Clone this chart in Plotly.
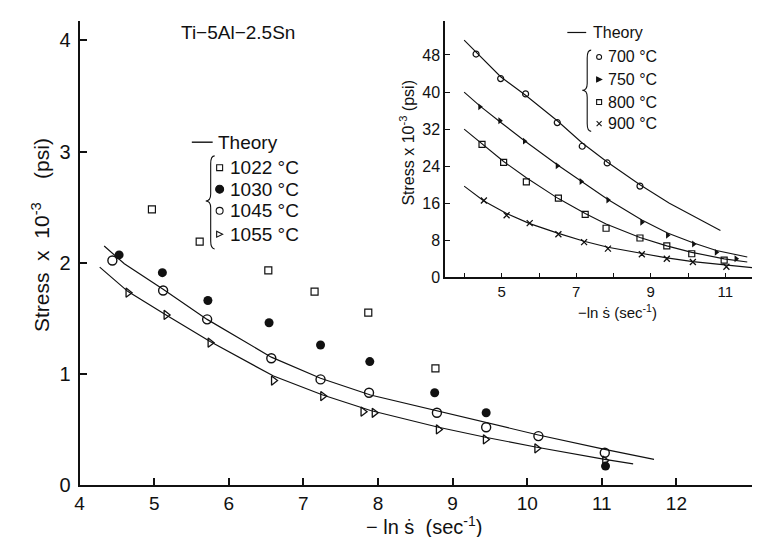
import plotly.graph_objects as go

# ---------------- main chart data (Ti-5Al-2.5Sn) ----------------
x_1022 = [4.97, 5.61, 6.53, 7.15, 7.87, 8.77]
y_1022 = [2.48, 2.19, 1.93, 1.74, 1.55, 1.05]

x_1030 = [4.53, 5.11, 5.72, 6.54, 7.23, 7.89, 8.76, 9.45, 11.05]
y_1030 = [2.07, 1.91, 1.66, 1.46, 1.26, 1.11, 0.83, 0.65, 0.17]

x_1045 = [4.44, 5.12, 5.71, 6.57, 7.23, 7.88, 8.79, 9.45, 10.15, 11.04]
y_1045 = [2.02, 1.75, 1.49, 1.14, 0.95, 0.83, 0.65, 0.52, 0.44, 0.29]

x_1055 = [4.65, 5.16, 5.75, 6.60, 7.26, 7.80, 7.95, 8.81, 9.44, 10.13, 11.04]
y_1055 = [1.73, 1.53, 1.28, 0.94, 0.80, 0.66, 0.65, 0.50, 0.41, 0.33, 0.22]

th_upper_x = [4.33, 4.60, 5.12, 5.71, 6.57, 7.23, 7.90, 8.79, 9.45, 10.15, 11.04, 11.70]
th_upper_y = [2.15, 1.99, 1.76, 1.49, 1.15, 0.96, 0.81, 0.67, 0.56, 0.45, 0.32, 0.23]
th_lower_x = [4.27, 4.65, 5.16, 5.75, 6.60, 7.26, 7.90, 8.81, 9.44, 10.13, 11.04, 11.42]
th_lower_y = [1.96, 1.74, 1.53, 1.29, 0.98, 0.81, 0.67, 0.52, 0.43, 0.34, 0.23, 0.19]

main_xticks = [4, 5, 6, 7, 8, 9, 10, 11, 12]
main_yticks = [0, 1, 2, 3, 4]

# ---------------- inset data ----------------
x_700 = [4.31, 4.97, 5.64, 6.49, 7.16, 7.83, 8.71]
y_700 = [48.2, 42.9, 39.6, 33.4, 28.3, 24.7, 19.7]
th700_x = [3.99, 4.31, 4.97, 5.64, 6.49, 7.16, 7.83, 8.71, 9.50, 10.87]
th700_y = [51.2, 48.6, 43.3, 39.3, 33.8, 29.0, 24.9, 20.0, 16.0, 10.1]

x_750 = [4.41, 4.95, 5.61, 6.49, 7.13, 7.85, 8.76, 9.45, 10.15, 10.76, 11.29]
y_750 = [36.8, 33.8, 29.4, 24.1, 20.7, 16.7, 11.9, 9.1, 7.2, 5.4, 4.0]
th750_x = [3.99, 4.41, 4.95, 5.61, 6.49, 7.13, 7.85, 8.76, 9.45, 10.15, 10.76, 11.59]
th750_y = [40.0, 37.0, 33.6, 29.5, 24.3, 20.8, 16.8, 12.4, 9.6, 7.4, 5.8, 4.4]

x_800 = [4.47, 5.05, 5.66, 6.52, 7.24, 7.80, 8.71, 9.43, 10.10, 10.97]
y_800 = [28.7, 24.8, 20.6, 17.1, 13.6, 10.6, 8.5, 6.8, 5.1, 3.7]
th800_x = [3.99, 4.47, 5.05, 5.66, 6.52, 7.24, 7.80, 8.71, 9.43, 10.10, 10.97, 11.59]
th800_y = [32.0, 28.8, 25.0, 21.5, 17.0, 13.8, 11.5, 8.6, 6.8, 5.4, 4.0, 3.3]

x_900 = [4.52, 5.13, 5.75, 6.52, 7.21, 7.85, 8.76, 9.43, 10.13, 11.03]
y_900 = [16.6, 13.4, 11.7, 9.3, 7.6, 6.2, 5.0, 4.0, 3.3, 2.3]
th900_x = [3.99, 4.52, 5.13, 5.75, 6.52, 7.21, 7.85, 8.76, 9.43, 10.13, 11.03, 11.83]
th900_y = [19.7, 16.5, 13.8, 11.6, 9.5, 7.8, 6.5, 5.1, 4.2, 3.4, 2.6, 2.0]

inset_xticks = [5, 7, 9, 11]
inset_yticks = [0, 8, 16, 24, 32, 40, 48]

main_leg_labels = ["1022 \u00b0C", "1030 \u00b0C", "1045 \u00b0C", "1055 \u00b0C"]
ins_leg_labels = ["700 \u00b0C", "750 \u00b0C", "800 \u00b0C", "900 \u00b0C"]

W, H = 760, 537
FONT = "Liberation Sans"
BLACK = "#111111"


def px(x, y):
    return x / W, 1 - y / H


fig = go.Figure()

# main theory lines
for tx, ty in [(th_upper_x, th_upper_y), (th_lower_x, th_lower_y)]:
    fig.add_trace(go.Scatter(x=tx, y=ty, mode="lines", line=dict(color=BLACK, width=1.2),
                             xaxis="x", yaxis="y", showlegend=False))
fig.add_trace(go.Scatter(x=x_1022, y=y_1022, mode="markers", xaxis="x", yaxis="y",
                         marker=dict(symbol="square-open", size=7, color=BLACK, line=dict(width=1.2)),
                         showlegend=False))
fig.add_trace(go.Scatter(x=x_1030, y=y_1030, mode="markers", xaxis="x", yaxis="y",
                         marker=dict(symbol="circle", size=9, color=BLACK), showlegend=False))
fig.add_trace(go.Scatter(x=x_1045, y=y_1045, mode="markers", xaxis="x", yaxis="y",
                         marker=dict(symbol="circle-open", size=9, color=BLACK, line=dict(width=1.4)),
                         showlegend=False))
fig.add_trace(go.Scatter(x=x_1055, y=y_1055, mode="markers", xaxis="x", yaxis="y",
                         marker=dict(symbol="triangle-right-open", size=8, color=BLACK, line=dict(width=1.3)),
                         showlegend=False))

# inset theory lines
for tx, ty in [(th700_x, th700_y), (th750_x, th750_y), (th800_x, th800_y), (th900_x, th900_y)]:
    fig.add_trace(go.Scatter(x=tx, y=ty, mode="lines", line=dict(color=BLACK, width=1.1),
                             xaxis="x2", yaxis="y2", showlegend=False))
fig.add_trace(go.Scatter(x=x_700, y=y_700, mode="markers", xaxis="x2", yaxis="y2",
                         marker=dict(symbol="circle-open", size=6, color=BLACK, line=dict(width=1.2)),
                         showlegend=False))
fig.add_trace(go.Scatter(x=x_750, y=y_750, mode="markers", xaxis="x2", yaxis="y2",
                         marker=dict(symbol="triangle-right", size=6, color=BLACK), showlegend=False))
fig.add_trace(go.Scatter(x=x_800, y=y_800, mode="markers", xaxis="x2", yaxis="y2",
                         marker=dict(symbol="square-open", size=6, color=BLACK, line=dict(width=1.2)),
                         showlegend=False))
fig.add_trace(go.Scatter(x=x_900, y=y_900, mode="markers", xaxis="x2", yaxis="y2",
                         marker=dict(symbol="x-thin-open", size=6, color=BLACK, line=dict(width=1.3)),
                         showlegend=False))

# axes
m_x0, m_y0 = px(67, 487)
m_x1, m_y1 = px(750, 13)
i_x0, i_y0 = px(435, 275)
i_x1, i_y1 = px(758, 13)

axis_common = dict(showgrid=False, zeroline=False, showline=True, linecolor=BLACK,
                   ticks="inside", tickcolor=BLACK, color=BLACK)

fig.update_layout(
    width=W, height=H,
    margin=dict(l=0, r=0, t=0, b=0),
    paper_bgcolor="white", plot_bgcolor="rgba(0,0,0,0)",
    font=dict(family=FONT, color=BLACK),
    xaxis=dict(domain=[m_x0, m_x1], range=[4, 4 + (750 - 67) / 75.1], anchor="y",
               tickvals=main_xticks, ticklen=7, tickwidth=1.5, linewidth=2,
               tickfont=dict(size=19, family=FONT), **axis_common),
    yaxis=dict(domain=[m_y0, m_y1], range=[0, (487 - 13) / 113.5], anchor="x",
               tickvals=main_yticks, ticklen=7, tickwidth=1.5, linewidth=2,
               ticklabelstandoff=3,
               tickfont=dict(size=20, family=FONT), **axis_common),
    xaxis2=dict(domain=[i_x0, i_x1], range=[3.48, 3.48 + (758 - 435) / 37.5], anchor="y2",
                tickvals=inset_xticks, ticklen=5, tickwidth=1.2, linewidth=1.6,
                minor=dict(tickmode="linear", tick0=0, dtick=1, ticks="inside", ticklen=5,
                           tickcolor=BLACK, tickwidth=1.2),
                tickfont=dict(size=15, family=FONT), **axis_common),
    yaxis2=dict(domain=[i_y0, i_y1], range=[0, (275 - 13) / 4.73], anchor="x2",
                tickvals=inset_yticks, ticklen=5, tickwidth=1.2, linewidth=1.6,
                tickfont=dict(size=16, family=FONT), **axis_common),
)

ann = []


def text(x, y, s, size, anchor="center", angle=0):
    ax, ay = px(x, y)
    ann.append(dict(x=ax, y=ay, xref="paper", yref="paper", text=s, showarrow=False,
                    xanchor=anchor, yanchor="middle", textangle=angle,
                    font=dict(size=size, family=FONT, color=BLACK)))


# titles
text(226, 25, "Ti\u22125Al\u22122.5Sn", 19)
text(28, 232, "Stress  x  10<sup>-3</sup>    (psi)", 21, angle=-90)
text(414, 528, "\u2212 ln \u1e61  (sec<sup>-1</sup>)", 20)
text(397, 137, "Stress x 10<sup>-3</sup> (psi)", 16, angle=-90)
text(609, 310, "\u2212ln \u1e61 (sec<sup>-1</sup>)", 15)

# legends (text)
text(204, 137, "Theory", 19, anchor="left")
main_rows = [163, 185, 207, 231]
for i, yy in enumerate(main_rows):
    text(216, yy, main_leg_labels[i], 19, anchor="left")

text(582, 25, "Theory", 16, anchor="left")
ins_rows = [50, 73, 96, 118]
for i, yy in enumerate(ins_rows):
    text(597, yy, ins_leg_labels[i], 16, anchor="left")

fig.update_layout(annotations=ann)

# legend symbols, dashes and braces (decoration drawn as shapes)
shapes = []


def P(x, y):
    a, b = px(x, y)
    return f"{a:.5f},{b:.5f}"


def line_px(x0, y0, x1, y1, w):
    a0, b0 = px(x0, y0)
    a1, b1 = px(x1, y1)
    shapes.append(dict(type="line", xref="paper", yref="paper", x0=a0, y0=b0, x1=a1, y1=b1,
                       line=dict(color=BLACK, width=w)))


def box_px(cx, cy, r, kind, w=1.1):
    a0, b0 = px(cx - r, cy + r)
    a1, b1 = px(cx + r, cy - r)
    filled = kind.endswith("fill")
    shapes.append(dict(type="rect" if kind.startswith("sq") else "circle",
                       xref="paper", yref="paper", x0=a0, y0=b0, x1=a1, y1=b1,
                       fillcolor=BLACK if filled else "rgba(0,0,0,0)",
                       line=dict(color=BLACK, width=w)))


def tri_px(cx, cy, r, filled, w=1.1):
    path = f"M {P(cx - r, cy - r)} L {P(cx + r, cy)} L {P(cx - r, cy + r)} Z"
    shapes.append(dict(type="path", xref="paper", yref="paper", path=path,
                       fillcolor=BLACK if filled else "rgba(0,0,0,0)",
                       line=dict(color=BLACK, width=w)))


def brace(x0, top, mid, bot, w=1.1):
    path = (f"M {P(x0 + 4, top)} Q {P(x0, top)} {P(x0, top + 8)} L {P(x0, mid - 7)} "
            f"Q {P(x0, mid)} {P(x0 - 5, mid)} Q {P(x0, mid)} {P(x0, mid + 7)} "
            f"L {P(x0, bot - 8)} Q {P(x0, bot)} {P(x0 + 4, bot)}")
    shapes.append(dict(type="path", xref="paper", yref="paper", path=path,
                       line=dict(color=BLACK, width=w)))


# main legend symbols
box_px(208, main_rows[0], 3, "sq")
box_px(208, main_rows[1], 4, "circ_fill")
box_px(208, main_rows[2], 3.5, "circ")
tri_px(208, main_rows[3], 3, False)
# inset legend symbols
box_px(590, ins_rows[0], 2.5, "circ")
tri_px(590, ins_rows[1], 2.5, True)
box_px(590, ins_rows[2], 2.5, "sq")
line_px(587.5, ins_rows[3] - 2.5, 592.5, ins_rows[3] + 2.5, 1.1)
line_px(587.5, ins_rows[3] + 2.5, 592.5, ins_rows[3] - 2.5, 1.1)

line_px(180, 137, 201, 137, 1.4)
line_px(558, 25, 577, 25, 1.2)
brace(199, 151, 197, 246)
brace(578, 43, 84, 126)
fig.update_layout(shapes=shapes)

fig.write_html("out.html")
